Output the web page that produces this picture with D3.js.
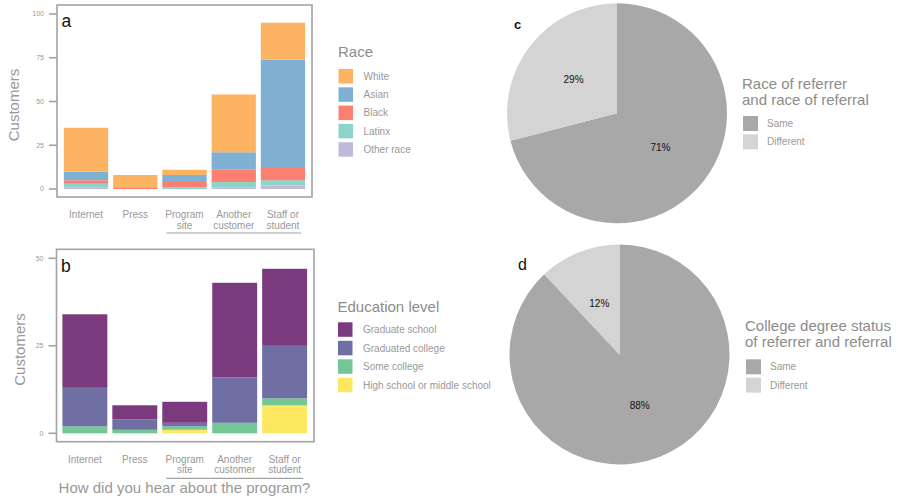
<!DOCTYPE html>
<html>
<head>
<meta charset="utf-8">
<script src="https://cdn.jsdelivr.net/npm/d3@7"></script>
<style>
  body { margin: 0; background: #fff; }
  svg { display: block; font-family: "Liberation Sans", Arial, Helvetica, sans-serif; }
</style>
</head>
<body>
<svg id="chart" width="898" height="500"></svg>
<script>
// ---------- data ----------
const sources = ["Internet", "Press", "Program site", "Another customer", "Staff or student"];
const sourceLines = [["Internet"], ["Press"], ["Program", "site"], ["Another", "customer"], ["Staff or", "student"]];

const raceKeys = ["White", "Asian", "Black", "Latinx", "Other race"];
const raceColors = ["#FDB462", "#80B1D3", "#FB8072", "#8DD3C7", "#BEBADA"];
const raceWhite  = [25, 7, 3, 33, 21];
const raceAsian  = [5, 0, 4, 10, 62];
const raceBlack  = [2, 1, 3, 7, 7];
const raceLatinx = [2, 0, 1, 3, 3];
const raceOther  = [1, 0, 0, 1, 2];
const raceTicks  = [0, 25, 50, 75, 100];

const eduKeys = ["Graduate school", "Graduated college", "Some college", "High school or middle school"];
const eduColors = ["#7B3A7E", "#6F6FA3", "#74C794", "#FDE862"];
const eduGrad    = [21, 4, 6, 27, 22];
const eduCollege = [11, 3, 1, 13, 15];
const eduSome    = [2, 1, 1, 3, 2];
const eduHS      = [0, 0, 1, 0, 8];
const eduTicks   = [0, 25, 50];

const pieKeys = ["Same", "Different"];
const pieColors = ["#A8A8A8", "#D4D4D4"];
const raceMatch   = [71, 29];
const degreeMatch = [88, 12];

// ---------- helpers ----------
const svg = d3.select("#chart");
const GREY_TXT = "#999999";
const GREY_TITLE = "#8c8c8c";

function stackedPanel(opts) {
  const g = svg.append("g");
  const rows = sources.map((s, i) => {
    const r = { source: s };
    opts.keys.forEach((k, j) => r[k] = opts.series[j][i]);
    return r;
  });
  // first key on top (ggplot order): stack from last key upward
  const stack = d3.stack().keys(opts.keys.slice().reverse());
  const layers = stack(rows);
  const color = d3.scaleOrdinal().domain(opts.keys).range(opts.colors);

  const x = d3.scaleBand().domain(sources).range(opts.xRange).paddingInner(0.1).paddingOuter(0.05);
  const y = d3.scaleLinear().domain([0, opts.yMax]).range(opts.yRange);

  // bars
  g.selectAll("g.layer").data(layers).enter().append("g")
    .attr("fill", d => color(d.key))
    .selectAll("rect").data(d => d).enter().append("rect")
    .attr("x", d => x(d.data.source))
    .attr("width", x.bandwidth())
    .attr("y", d => y(d[1]))
    .attr("height", d => Math.max(0, y(d[0]) - y(d[1])));

  // panel border
  const b = opts.box;
  g.append("rect").attr("x", b[0]).attr("y", b[1]).attr("width", b[2] - b[0]).attr("height", b[3] - b[1])
    .attr("fill", "none").attr("stroke", "#a3a3a3").attr("stroke-width", 1.6);

  // y ticks
  const ty = g.append("g");
  opts.ticks.forEach(t => {
    ty.append("line").attr("x1", b[0] - 8).attr("x2", b[0]).attr("y1", y(t)).attr("y2", y(t))
      .attr("stroke", "#a3a3a3").attr("stroke-width", 1.6);
    ty.append("text").attr("x", b[0] - 13).attr("y", y(t)).attr("dy", "0.35em")
      .attr("text-anchor", "end").attr("font-size", 7).attr("fill", GREY_TXT).text(t);
  });

  // x labels
  sources.forEach((s, i) => {
    const cx = x(s) + x.bandwidth() / 2;
    sourceLines[i].forEach((ln, k) => {
      g.append("text").attr("x", cx).attr("y", opts.labelY + k * 10.8)
        .attr("text-anchor", "middle").attr("font-size", 10).attr("fill", GREY_TXT).text(ln);
    });
  });
  // underline under referral categories
  g.append("line").attr("x1", x(sources[2]) + 4).attr("x2", x(sources[4]) + x.bandwidth() - 4)
    .attr("y1", opts.underlineY).attr("y2", opts.underlineY)
    .attr("stroke", "#a3a3a3").attr("stroke-width", 1.2);

  // y title
  g.append("text").attr("transform", `translate(${opts.yTitleX},${(b[1] + b[3]) / 2 + 4}) rotate(-90)`)
    .attr("text-anchor", "middle").attr("font-size", 15).attr("fill", GREY_TXT).text("Customers");

  // panel letter
  g.append("text").attr("x", b[0] + 4.5).attr("y", opts.letterY).attr("font-size", 17.5)
    .attr("fill", "#111").text(opts.letter);

  // legend
  const lg = g.append("g");
  lg.append("text").attr("x", opts.legX).attr("y", opts.legTitleY).attr("font-size", 15)
    .attr("fill", GREY_TITLE).text(opts.legTitle);
  opts.keys.forEach((k, j) => {
    const yy = opts.legKeyY + j * opts.legStep;
    lg.append("rect").attr("x", opts.legX + 0.5).attr("y", yy).attr("width", 14.5).attr("height", 14.5)
      .attr("fill", color(k));
    lg.append("text").attr("x", opts.legX + 25.5).attr("y", yy + 7.25).attr("dy", "0.35em")
      .attr("font-size", 10).attr("fill", GREY_TXT).text(k);
  });
}

function piePanel(opts) {
  const g = svg.append("g");
  const data = pieKeys.map((k, i) => ({ key: k, value: opts.values[i] }));
  const pie = d3.pie().value(d => d.value).sort(null);
  const arc = d3.arc().innerRadius(0).outerRadius(opts.r);
  const color = d3.scaleOrdinal().domain(pieKeys).range(pieColors);
  const arcs = pie(data);
  const pg = g.append("g").attr("transform", `translate(${opts.cx},${opts.cy})`);
  pg.selectAll("path").data(arcs).enter().append("path")
    .attr("d", arc).attr("fill", d => color(d.data.key));
  pg.selectAll("text").data(arcs).enter().append("text")
    .attr("transform", d => `translate(${arc.centroid(d)})`)
    .attr("text-anchor", "middle").attr("dy", "0.35em")
    .attr("font-size", 10).attr("fill", "#111").text(d => d.data.value + "%");

  g.append("text").attr("x", opts.letterX).attr("y", opts.letterY).attr("font-size", opts.letterSize)
    .attr("font-weight", opts.letterWeight || "normal").attr("fill", "#111").text(opts.letter);

  const lg = g.append("g");
  opts.title.forEach((t, i) => {
    lg.append("text").attr("x", opts.legX).attr("y", opts.legTitleY + i * 16).attr("font-size", 15)
      .attr("fill", GREY_TITLE).text(t);
  });
  pieKeys.forEach((k, j) => {
    const yy = opts.legKeyY + j * 18.3;
    lg.append("rect").attr("x", opts.legX + 1).attr("y", yy).attr("width", 15).attr("height", 15)
      .attr("fill", color(k));
    lg.append("text").attr("x", opts.legX + 25).attr("y", yy + 7.5).attr("dy", "0.35em")
      .attr("font-size", 10).attr("fill", GREY_TXT).text(k);
  });
}

// ---------- panel a ----------
stackedPanel({
  keys: raceKeys, colors: raceColors,
  series: [raceWhite, raceAsian, raceBlack, raceLatinx, raceOther],
  xRange: [61.4, 307.6], yMax: 100, yRange: [189, 14], ticks: raceTicks,
  box: [57, 5, 312, 197], labelY: 218, underlineY: 233, yTitleX: 18.5,
  letter: "a", letterY: 26.5,
  legX: 338, legTitle: "Race", legTitleY: 57.3, legKeyY: 69, legStep: 18.3
});

// ---------- panel b ----------
stackedPanel({
  keys: eduKeys, colors: eduColors,
  series: [eduGrad, eduCollege, eduSome, eduHS],
  xRange: [59.9, 309.6], yMax: 50, yRange: [433.3, 258.3], ticks: eduTicks,
  box: [56.5, 249.3, 314, 441.7], labelY: 462.5, underlineY: 478.3, yTitleX: 24.5,
  letter: "b", letterY: 272,
  legX: 337.5, legTitle: "Education level", legTitleY: 311.7, legKeyY: 322.3, legStep: 18.5
});

// x title
svg.append("text").attr("x", 184.5).attr("y", 493).attr("text-anchor", "middle")
  .attr("font-size", 15).attr("fill", GREY_TXT).text("How did you hear about the program?");

// ---------- panel c ----------
piePanel({
  values: raceMatch, cx: 617, cy: 113.3, r: 110,
  letter: "c", letterX: 514, letterY: 29, letterSize: 13, letterWeight: "bold",
  legX: 742, title: ["Race of referrer", "and race of referral"], legTitleY: 89.3, legKeyY: 116
});

// ---------- panel d ----------
piePanel({
  values: degreeMatch, cx: 619.5, cy: 354.5, r: 110,
  letter: "d", letterX: 518, letterY: 270, letterSize: 16,
  legX: 745, title: ["College degree status", "of referrer and referral"], legTitleY: 330.7, legKeyY: 359.3
});
</script>
</body>
</html>
